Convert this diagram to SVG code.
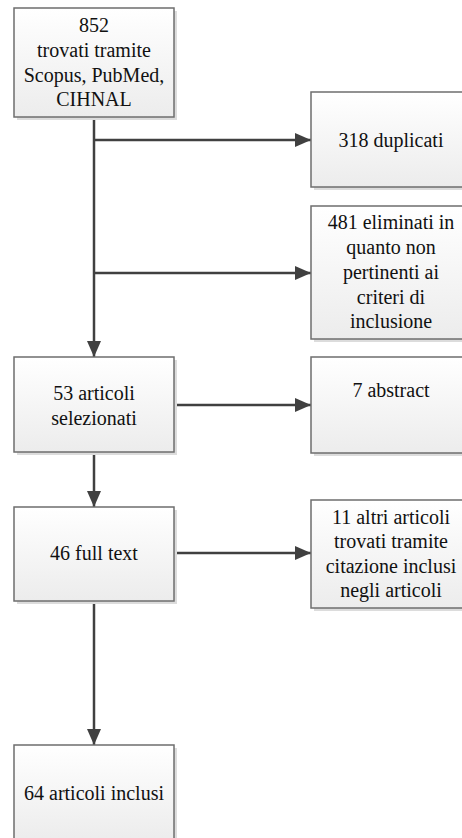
<svg xmlns="http://www.w3.org/2000/svg" width="462" height="838" viewBox="0 0 462 838">
<defs>
<linearGradient id="g" x1="0" y1="0" x2="0" y2="1">
<stop offset="0" stop-color="#ffffff"/>
<stop offset="1" stop-color="#ececec"/>
</linearGradient>
<marker id="ah" markerUnits="userSpaceOnUse" markerWidth="16" markerHeight="14" refX="16" refY="7" orient="auto">
<path d="M0,0 L16,7 L0,14 Z" fill="#404040"/>
</marker>
</defs>
<style>
.box{fill:url(#g);stroke:#6e6e6e;stroke-width:1.5}
.sh{fill:#dcdcdc}
text{font-family:'Liberation Serif','Times New Roman',Times,serif;font-size:20px;fill:#111;text-anchor:middle}
.c{fill:none;stroke:#404040;stroke-width:2.5}
</style>
<g id="connectors">
<path class="c" d="M94,117 V357" marker-end="url(#ah)"/>
<path class="c" d="M94,140 H311" marker-end="url(#ah)"/>
<path class="c" d="M94,273 H311" marker-end="url(#ah)"/>
<path class="c" d="M174,405 H311" marker-end="url(#ah)"/>
<path class="c" d="M94,452 V507" marker-end="url(#ah)"/>
<path class="c" d="M174,553 H311" marker-end="url(#ah)"/>
<path class="c" d="M94,601 V745" marker-end="url(#ah)"/>
</g>
<g font-family="Liberation Serif, serif">
<g id="n1">
<rect class="sh" x="17" y="11" width="160" height="109"/>
<rect class="box" x="14" y="8" width="160" height="109"/>
<text x="94" y="32">852</text>
<text x="94" y="57">trovati tramite</text>
<text x="94" y="82">Scopus, PubMed,</text>
<text x="94" y="106">CIHNAL</text>
</g>
<g id="n2">
<rect class="sh" x="314" y="95" width="160" height="95"/>
<rect class="box" x="311" y="92" width="160" height="95"/>
<text x="391" y="147">318 duplicati</text>
</g>
<g id="n3">
<rect class="sh" x="314" y="209" width="160" height="133"/>
<rect class="box" x="311" y="206" width="160" height="133"/>
<text x="391" y="229">481 eliminati in</text>
<text x="391" y="254">quanto non</text>
<text x="391" y="279">pertinenti ai</text>
<text x="391" y="304">criteri di</text>
<text x="391" y="328">inclusione</text>
</g>
<g id="n4">
<rect class="sh" x="17" y="360" width="160" height="95"/>
<rect class="box" x="14" y="357" width="160" height="95"/>
<text x="94" y="400">53 articoli</text>
<text x="94" y="425">selezionati</text>
</g>
<g id="n5">
<rect class="sh" x="314" y="360" width="160" height="96"/>
<rect class="box" x="311" y="357" width="160" height="96"/>
<text x="391" y="397">7 abstract</text>
</g>
<g id="n6">
<rect class="sh" x="17" y="510" width="160" height="94"/>
<rect class="box" x="14" y="507" width="160" height="94"/>
<text x="94" y="560">46 full text</text>
</g>
<g id="n7">
<rect class="sh" x="314" y="503" width="160" height="108"/>
<rect class="box" x="311" y="500" width="160" height="108"/>
<text x="391" y="524">11 altri articoli</text>
<text x="391" y="548">trovati tramite</text>
<text x="391" y="573">citazione inclusi</text>
<text x="391" y="597">negli articoli</text>
</g>
<g id="n8">
<rect class="sh" x="17" y="748" width="160" height="96"/>
<rect class="box" x="14" y="745" width="160" height="96"/>
<text x="94" y="800">64 articoli inclusi</text>
</g>
</g>
</svg>
